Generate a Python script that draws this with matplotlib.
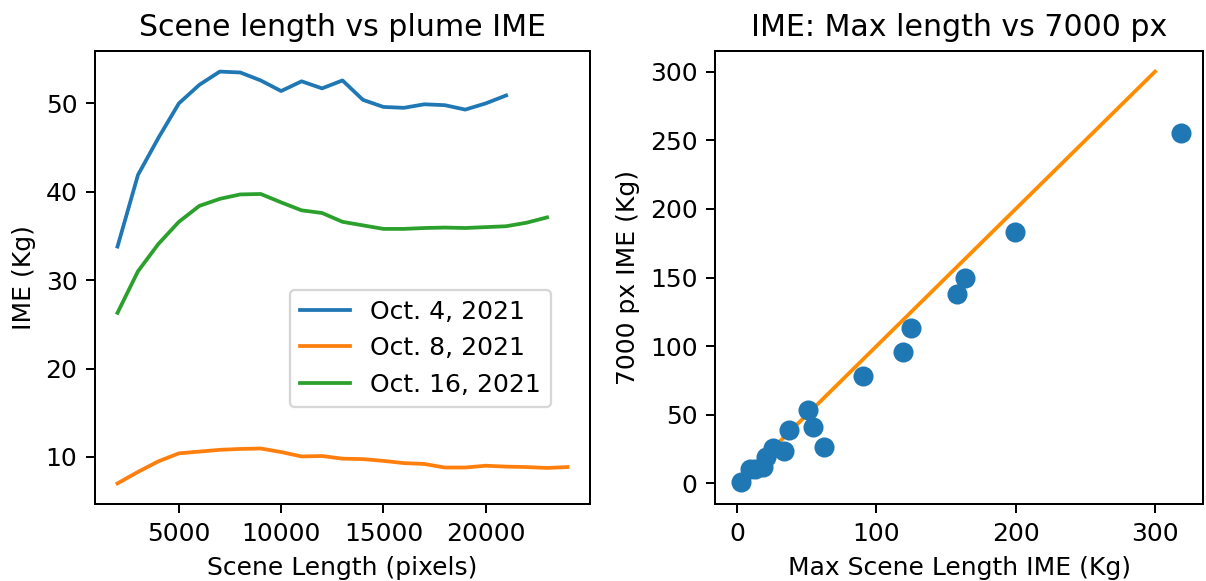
import matplotlib
matplotlib.use("Agg")
import matplotlib.pyplot as plt

# ---- data: left panel ----
scene_len_oct4 = [2000, 3000, 4000, 5000, 6000, 7000, 8000, 9000, 10000, 11000,
                  12000, 13000, 14000, 15000, 16000, 17000, 18000, 19000, 20000, 21000]
ime_oct4 = [33.8, 41.9, 46.1, 50.0, 52.1, 53.6, 53.5, 52.6, 51.4, 52.5,
            51.7, 52.6, 50.4, 49.6, 49.5, 49.9, 49.8, 49.3, 50.0, 50.9]

scene_len_oct8 = [2000, 3000, 4000, 5000, 6000, 7000, 8000, 9000, 10000, 11000, 12000,
                  13000, 14000, 15000, 16000, 17000, 18000, 19000, 20000, 21000, 22000,
                  23000, 24000]
ime_oct8 = [7.0, 8.3, 9.5, 10.4, 10.6, 10.8, 10.9, 10.95, 10.55, 10.05, 10.1,
            9.8, 9.75, 9.55, 9.3, 9.2, 8.8, 8.8, 9.0, 8.9, 8.85, 8.75, 8.85]

scene_len_oct16 = [2000, 3000, 4000, 5000, 6000, 7000, 8000, 9000, 10000, 11000, 12000,
                   13000, 14000, 15000, 16000, 17000, 18000, 19000, 20000, 21000, 22000,
                   23000]
ime_oct16 = [26.3, 31.0, 34.1, 36.6, 38.4, 39.2, 39.7, 39.75, 38.8, 37.9, 37.6,
             36.6, 36.2, 35.8, 35.8, 35.9, 35.95, 35.9, 36.0, 36.1, 36.5, 37.1]

series_labels = ["Oct. 4, 2021", "Oct. 8, 2021", "Oct. 16, 2021"]

# ---- data: right panel ----
max_len_ime = [2.4, 9.5, 13.0, 18.3, 20.8, 25.5, 33.4, 37.2, 50.8, 54.1, 62.0,
               90.6, 119.0, 125.0, 157.7, 163.9, 199.7, 318.5]
px7000_ime = [1.2, 10.7, 10.2, 12.1, 19.4, 25.9, 23.5, 39.2, 53.5, 40.9, 26.4,
              77.9, 95.7, 113.1, 137.8, 149.4, 182.8, 255.0]
identity_line = [0, 300]

k = 1.1
plt.rcParams.update({
    "font.size": 10 * k,
    "lines.linewidth": 1.5 * k,
    "axes.linewidth": 0.8 * k,
    "xtick.major.size": 3.5 * k,
    "ytick.major.size": 3.5 * k,
    "xtick.major.width": 0.8 * k,
    "ytick.major.width": 0.8 * k,
    "xtick.major.pad": 3.5 * k,
    "ytick.major.pad": 3.5 * k,
    "axes.titlepad": 6 * k,
    "axes.labelpad": 4 * k,
})

fig = plt.figure(figsize=(1206 / 164, 581 / 164), dpi=164)

ax1 = fig.add_axes([95 / 1206, 77 / 581, 495 / 1206, 453 / 581])
ax1.plot(scene_len_oct4, ime_oct4, label=series_labels[0])
ax1.plot(scene_len_oct8, ime_oct8, label=series_labels[1])
ax1.plot(scene_len_oct16, ime_oct16, label=series_labels[2])
ax1.set_title("Scene length vs plume IME")
ax1.set_xlabel("Scene Length (pixels)")
ax1.set_ylabel("IME (Kg)")
ax1.set_xticks([5000, 10000, 15000, 20000])
ax1.set_yticks([10, 20, 30, 40, 50])
ax1.legend(loc="lower right", bbox_to_anchor=(0.921, 0.215), borderaxespad=0)

ax2 = fig.add_axes([715 / 1206, 77 / 581, 488 / 1206, 453 / 581])
ax2.plot(identity_line, identity_line, color="darkorange", zorder=1)
ax2.scatter(max_len_ime, px7000_ime, s=36 * k * k * 1.4, color="tab:blue", zorder=2)
ax2.set_title("IME: Max length vs 7000 px")
ax2.set_xlabel("Max Scene Length IME (Kg)")
ax2.set_ylabel("7000 px IME (Kg)")
ax2.set_xticks([0, 100, 200, 300])
ax2.set_yticks([0, 50, 100, 150, 200, 250, 300])

fig.savefig("out.png", dpi=164)
